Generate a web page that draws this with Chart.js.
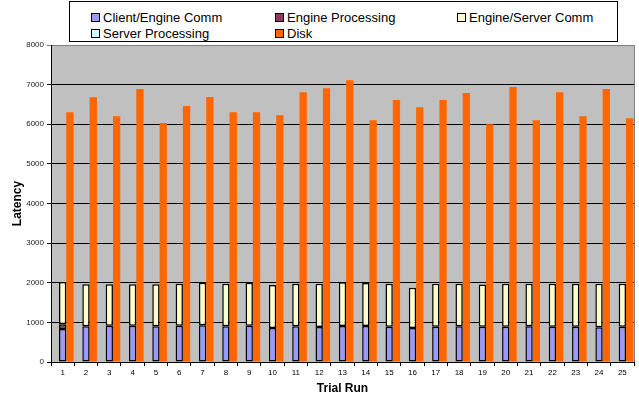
<!DOCTYPE html>
<html>
<head>
<meta charset="utf-8">
<script src="https://cdn.jsdelivr.net/npm/chart.js@4/dist/chart.umd.min.js"></script>
<style>
  body { margin: 0; background: #fff; }
  #wrap { position: relative; width: 639px; height: 398px; font-family: "Liberation Sans", Arial, sans-serif; }
  #leyenda { position: absolute; left: 69px; top: 1px; width: 547px; height: 39px; border: 1px solid #000; background: #fff; }
  .item { position: absolute; font-size: 13px; line-height: 15px; color: #000; white-space: nowrap; }
  .caja { display: inline-block; width: 7px; height: 7px; border: 1px solid #000; margin-right: 3px; vertical-align: 0px; }
</style>
</head>
<body>
<div id="wrap">
  <canvas id="plot" width="639" height="398"></canvas>
  <div id="leyenda"></div>
</div>
<script>
// Datos
let trialArr = ['1','2','3','4','5','6','7','8','9','10','11','12','13','14','15','16','17','18','19','20','21','22','23','24','25'];
let clientEngineArr = [830, 900, 915, 915, 900, 915, 930, 900, 915, 860, 900, 885, 910, 910, 890, 860, 890, 900, 890, 890, 900, 890, 890, 875, 890];
let engineProcArr = [120, 0, 0, 0, 0, 0, 0, 0, 0, 0, 0, 0, 0, 0, 0, 0, 0, 0, 0, 0, 0, 0, 0, 0, 0];
let engineServerArr = [1070, 1065, 1050, 1050, 1060, 1060, 1070, 1075, 1085, 1085, 1075, 1090, 1100, 1085, 1085, 1015, 1085, 1075, 1065, 1085, 1075, 1085, 1085, 1100, 1085];
let serverProcArr = [0, 0, 0, 0, 0, 0, 0, 0, 0, 0, 0, 0, 0, 0, 0, 0, 0, 0, 0, 0, 0, 0, 0, 0, 0];
let diskArr = [6300, 6680, 6200, 6890, 6030, 6460, 6690, 6300, 6300, 6230, 6810, 6910, 7110, 6100, 6610, 6430, 6610, 6790, 6000, 6940, 6100, 6810, 6200, 6890, 6150];
let emptyArr = trialArr.map(() => 0);

let seriesLabels = ['Client/Engine Comm', 'Engine Processing', 'Engine/Server Comm', 'Server Processing', 'Disk'];
let seriesColors = ['#9999FF', '#993366', '#FFFFCC', '#CCFFFF', '#FF6600'];

// Leyenda en HTML (3 columnas)
let cargarLeyenda = () => {
    let ref = document.getElementById('leyenda');
    let cols = [21, 205, 387];
    let rows = [8, 24];
    seriesLabels.forEach((txt, i) => {
        let d = document.createElement('div');
        d.className = 'item';
        d.style.left = cols[i % 3] + 'px';
        d.style.top = rows[Math.floor(i / 3)] + 'px';
        d.innerHTML = `<span class="caja" style="background:${seriesColors[i]}"></span>${txt}`;
        ref.appendChild(d);
    });
};

let fondoGris = {
    id: 'fondoGris',
    beforeDraw: (chart) => {
        let {ctx, chartArea: a} = chart;
        ctx.save();
        ctx.fillStyle = '#C0C0C0';
        ctx.fillRect(a.left, a.top, a.right - a.left, a.bottom - a.top);
        ctx.strokeStyle = '#808080';
        ctx.lineWidth = 1;
        ctx.beginPath();
        ctx.moveTo(a.right + 0.5, a.top);
        ctx.lineTo(a.right + 0.5, a.bottom);
        ctx.stroke();
        ctx.restore();
    }
};

let stackedSet = (i, data) => ({
    label: seriesLabels[i],
    data: data,
    stack: 's',
    backgroundColor: seriesColors[i],
    borderColor: '#000',
    borderWidth: 1.5,
    borderSkipped: false
});

let config = {
    type: 'bar',
    data: {
        labels: trialArr,
        datasets: [
            { label: '', data: emptyArr, stack: 'p', backgroundColor: 'rgba(0,0,0,0)', borderWidth: 0 },
            stackedSet(0, clientEngineArr),
            stackedSet(1, engineProcArr),
            stackedSet(2, engineServerArr),
            stackedSet(3, serverProcArr),
            { label: seriesLabels[4], data: diskArr, stack: 'd', backgroundColor: seriesColors[4], borderWidth: 0 }
        ]
    },
    options: {
        responsive: false,
        devicePixelRatio: 1,
        animation: false,
        categoryPercentage: 0.94,
        barPercentage: 1,
        layout: { padding: { top: 45, right: 5, left: 0, bottom: 0 } },
        plugins: { legend: { display: false }, tooltip: { enabled: false } },
        scales: {
            x: {
                stacked: true,
                afterFit: (s) => { s.height = 36; },
                grid: { drawOnChartArea: false, drawTicks: true, tickLength: 4, color: '#000', offset: true },
                border: { display: true, color: '#000' },
                ticks: { color: '#000', font: { family: 'Liberation Sans', size: 8 }, padding: 2, maxRotation: 0, autoSkip: false },
                title: { display: true, text: 'Trial Run', color: '#000', font: { family: 'Liberation Sans', size: 12, weight: 'bold' }, padding: { top: 0, bottom: 2 } }
            },
            y: {
                stacked: true,
                min: 0,
                max: 8000,
                afterFit: (s) => { s.width = 51; },
                grid: {
                    color: (c) => c.tick && c.tick.value === 8000 ? '#808080' : '#000',
                    lineWidth: 1,
                    drawTicks: true,
                    tickLength: 4
                },
                border: { display: true, color: '#000' },
                ticks: { stepSize: 1000, color: '#222', font: { family: 'Liberation Sans', size: 8 }, padding: 3, callback: (v) => String(v) },
                title: { display: true, text: 'Latency', color: '#000', font: { family: 'Liberation Sans', size: 12, weight: 'bold' }, padding: { top: 10, bottom: 0 } }
            }
        }
    },
    plugins: [fondoGris]
};

let chart1 = new Chart(document.getElementById('plot'), config);
cargarLeyenda();
</script>
</body>
</html>
